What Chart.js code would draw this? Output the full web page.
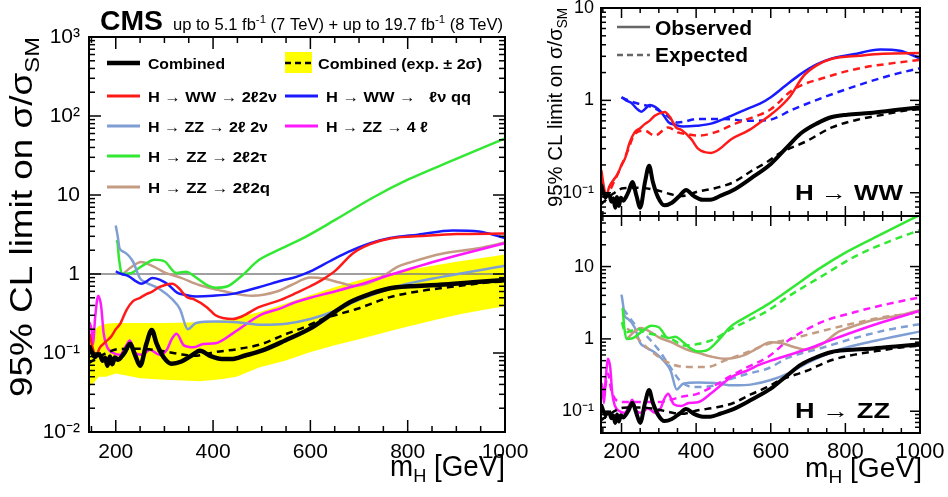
<!DOCTYPE html>
<html>
<head>
<meta charset="utf-8">
<title>CMS high-mass Higgs limits</title>
<script src="https://cdn.jsdelivr.net/npm/chart.js@4.4.1/dist/chart.umd.min.js"></script>
<style>
  html, body { margin: 0; padding: 0; background: #fff; }
  body { position: relative; width: 948px; height: 497px; overflow: hidden; }
  canvas { position: absolute; }
</style>
</head>
<body>
<canvas id="main" width="540" height="497" style="left:0;top:0"></canvas>
<canvas id="ww" width="408" height="226" style="left:540px;top:0"></canvas>
<canvas id="zz" width="408" height="291" style="left:540px;top:206px"></canvas>
<script>
// tick labels
const xTicks = [200, 400, 600, 800, 1000]
const yTicksMain = [0.01, 0.1, 1, 10, 100, 1000]
const yTicksSide = [0.1, 1, 10]

// combined (observed / expected / 2 sigma band)
const massComb = [145,150,157,163,168,173,178,183,188,193,198,205,212,219,229,240,250,263,274,284,298,315,335,356,373,394,418,438,466,500,548,600,640,681,723,764,805,866,934,1000]
const limitComb = [0.124,0.105,0.089,0.095,0.093,0.08,0.087,0.069,0.09,0.072,0.088,0.082,0.09,0.103,0.131,0.093,0.069,0.131,0.196,0.131,0.089,0.073,0.078,0.093,0.107,0.092,0.084,0.084,0.093,0.107,0.144,0.205,0.3,0.44,0.56,0.66,0.70,0.73,0.785,0.84]
const massCombExp = [145,160,178,205,250,300,330,360,405,450,500,548,590,626,695,764,832,901,969,1000]
const limitCombExp = [0.075,0.085,0.098,0.112,0.113,0.105,0.097,0.092,0.103,0.112,0.13,0.172,0.215,0.27,0.36,0.51,0.616,0.70,0.785,0.80]
const bandMass = [145,155,165,180,200,222,250,300,373,420,448,496,548,599,650,702,764,805,860,907,960,1000]
const bandLow = [0.037,0.042,0.05,0.05,0.055,0.052,0.048,0.046,0.044,0.047,0.05,0.066,0.08,0.102,0.125,0.15,0.19,0.22,0.265,0.31,0.355,0.39]
const bandHigh = [0.15,0.19,0.22,0.235,0.24,0.24,0.24,0.24,0.245,0.26,0.28,0.33,0.42,0.54,0.68,0.84,1.02,1.14,1.3,1.45,1.62,1.77]

// H -> WW -> 2l2nu
const wwLepMass = [146,152,159,167,180,190,200,209,222,235,250,262,275,289,300,316,330,346,360,387,405,423,440,459,494,539,571,600,625,652,687,723,764,839,901,1000]
const wwLepObs = [0.175,0.12,0.091,0.116,0.14,0.16,0.2,0.233,0.35,0.45,0.5,0.553,0.6,0.68,0.72,0.75,0.66,0.51,0.48,0.38,0.3,0.275,0.27,0.29,0.38,0.47,0.575,0.7,0.85,1.11,1.82,2.39,2.82,3.05,3.2,3.25]
const wwLepExpMass = [150,165,182,200,217,235,262,289,325,351,378,405,450,512,571,600,660,750,839,928,1000]
const wwLepExp = [0.09,0.1,0.137,0.198,0.287,0.43,0.47,0.415,0.51,0.45,0.43,0.415,0.45,0.575,0.7,0.8,1.31,1.79,2.23,2.53,2.74]

// H -> WW -> lnu qq
const wwQqMass = [200,212,226,240,253,265,275,290,307,326,343,365,400,440,494,540,571,600,640,678,723,764,821,893,946,1000]
const wwQqObs = [1.08,1.0,0.94,0.82,0.755,0.82,0.89,0.85,0.74,0.58,0.545,0.52,0.53,0.56,0.68,0.82,0.92,1.08,1.45,1.9,2.45,2.85,3.15,3.55,3.45,2.85]
const wwQqExpMass = [200,226,253,280,316,351,405,475,539,592,660,750,839,928,1000]
const wwQqExp = [1.08,0.97,0.905,0.85,0.71,0.575,0.63,0.63,0.60,0.61,0.80,1.11,1.48,1.90,2.23]

// H -> ZZ -> 2l2tau
const zzTauMass = [200,203,207,213,230,253,280,300,325,345,360,385,405,430,459,494,539,592,650,729,799,890,1000]
const zzTauObs = [2.6,2.55,1.5,1.0,1.02,1.25,1.52,1.45,1.03,1.07,0.95,0.74,0.67,0.7,0.95,1.5,2.08,3.0,4.8,9.3,15.5,27,52]
const zzTauExpMass = [201,210,244,270,300,333,369,405,450,494,539,592,647,736,826,915,1000]
const zzTauExp = [1.7,1.23,1.37,1.2,1.12,1.0,0.81,0.85,1.0,1.37,1.78,2.45,3.86,7.3,13.8,22,32]

// H -> ZZ -> 4l
const zz4lMass = [146,150,153,158,164,170,175,182,195,209,220,229,240,255,270,290,305,315,325,340,360,380,405,442,496,540,565,600,640,700,770,840,907,1000]
const zz4lObs = [0.245,0.2,0.13,0.3,0.53,0.39,0.18,0.12,0.1,0.095,0.12,0.144,0.1,0.095,0.11,0.095,0.11,0.15,0.175,0.125,0.118,0.13,0.133,0.18,0.3,0.37,0.43,0.5,0.58,0.73,1.0,1.35,1.75,2.45]
const zz4lExpMass = [146,155,164,172,182,200,250,300,360,405,450,494,539,592,647,736,826,915,1000]
const zz4lExp = [0.15,0.2,0.33,0.2,0.15,0.134,0.134,0.134,0.158,0.175,0.228,0.31,0.41,0.56,0.95,1.7,2.35,3.05,3.75]

// H -> ZZ -> 2l2q
const zzQMass = [215,230,252,277,300,333,373,410,440,480,531,560,600,630,660,692,736,781,805,870,942,1000]
const zzQObs = [1.0,1.2,1.42,1.25,1.05,0.9,0.72,0.63,0.57,0.53,0.6,0.72,0.9,0.87,0.78,0.71,0.84,1.25,1.4,1.8,2.1,2.5]
const zzQExpMass = [215,230,253,289,333,378,432,476,539,592,647,736,826,915,1000]
const zzQExp = [1.4,1.2,0.9,0.62,0.45,0.41,0.41,0.5,0.66,0.85,0.98,1.28,1.66,2.05,2.3]

// H -> ZZ -> 2l2nu
const zzNuMass = [200,204,208,217,235,250,262,289,316,332,348,365,405,450,500,550,600,650,700,780,870,1000]
const zzNuObs = [4.1,3.0,2.1,1.9,1.45,0.88,0.78,0.65,0.48,0.36,0.2,0.24,0.25,0.245,0.228,0.235,0.27,0.34,0.47,0.7,0.92,1.27]
const zzNuExpMass = [205,235,262,300,333,360,396,450,494,539,592,647,736,826,915,1000]
const zzNuExp = [2.6,1.6,1.17,0.7,0.39,0.254,0.216,0.227,0.28,0.33,0.39,0.55,0.75,1.03,1.34,1.6]

const RED = '#ff1a1a', BLUE = '#1a1aff', LBLUE = '#7f9ed4', GREEN = '#33e833'
const MAGENTA = '#ff19ff', TAN = '#c49c84', YELLOW = '#ffff00'
const FONT = '"Liberation Sans", Arial, Helvetica, sans-serif'

Chart.defaults.font.family = FONT
Chart.defaults.color = '#000'

const pts = (xs, ys) => xs.map((x, i) => ({ x: x, y: ys[i] }))

const line = (xs, ys, color, width, dash, order) => ({
  data: pts(xs, ys),
  borderColor: color,
  borderWidth: width,
  borderDash: dash || [],
  pointRadius: 0,
  fill: false,
  cubicInterpolationMode: 'monotone',
  order: order
})

const DASH = [7, 5]
const supLabel = { '-2': '10\u207B\u00B2', '-1': '10\u207B\u00B9', '0': '1', '1': '10', '2': '10\u00B2', '3': '10\u00B3' }

// text with sub/superscripts, stretched to a given width
function rich(ctx, parts, x, y, width, align) {
  const f = p => (p.b ? 'bold ' : '') + p.s + 'px ' + FONT
  let w = 0
  parts.forEach(p => { ctx.font = f(p); p.w = ctx.measureText(p.t).width; w += p.w })
  const k = width ? width / w : 1
  const start = align === 'right' ? x - w * k : align === 'center' ? x - w * k / 2 : x
  ctx.save()
  ctx.translate(start, y)
  ctx.scale(k, 1)
  ctx.fillStyle = '#000'
  ctx.textAlign = 'left'
  ctx.textBaseline = 'alphabetic'
  let cx = 0
  parts.forEach(p => { ctx.font = f(p); ctx.fillText(p.t, cx, p.dy || 0); cx += p.w })
  ctx.restore()
}

function seg(ctx, x1, y1, x2, y2) {
  ctx.beginPath(); ctx.moveTo(x1, y1); ctx.lineTo(x2, y2); ctx.stroke()
}

// ROOT style frame with inward ticks
function framePlugin(maj, min) {
  return {
    id: 'frame',
    afterDatasetsDraw(chart) {
      const { ctx, chartArea: a, scales: { x, y } } = chart
      ctx.save()
      ctx.strokeStyle = '#000'
      ctx.lineWidth = 1.5
      for (let v = Math.ceil(x.min / 50) * 50; v <= x.max; v += 50) {
        const px = x.getPixelForValue(v)
        const L = v % 200 === 0 ? maj : min
        seg(ctx, px, a.bottom, px, a.bottom - L)
        seg(ctx, px, a.top, px, a.top + L)
      }
      const e0 = Math.floor(Math.log10(y.min)), e1 = Math.ceil(Math.log10(y.max))
      for (let e = e0; e <= e1; e++) {
        for (let k = 1; k < 10; k++) {
          const v = k * Math.pow(10, e)
          if (v < y.min * 0.999 || v > y.max * 1.001) continue
          const py = y.getPixelForValue(v)
          const L = k === 1 ? maj : min
          seg(ctx, a.left, py, a.left + L, py)
          seg(ctx, a.right, py, a.right - L, py)
        }
      }
      ctx.lineWidth = 2
      ctx.strokeRect(a.left, a.top, a.right - a.left, a.bottom - a.top)
      ctx.restore()
    }
  }
}

function panel(id, o) {
  return new Chart(document.getElementById(id), {
    type: 'line',
    data: { datasets: o.datasets },
    options: {
      responsive: false,
      animation: false,
      devicePixelRatio: 1,
      layout: { padding: o.pad },
      plugins: { legend: { display: false }, tooltip: { enabled: false } },
      scales: {
        x: {
          type: 'linear', min: 145, max: 1000,
          grid: { display: false, drawTicks: false },
          border: { display: false },
          ticks: {
            display: o.xLabels, font: { size: o.xFont }, padding: o.xPad, maxRotation: 0, autoSkip: false, color: '#000',
            callback: v => String(v)
          },
          afterBuildTicks: s => { s.ticks = xTicks.map(v => ({ value: v })) },
          afterFit: s => { s.height = o.xH; s.paddingLeft = 0; s.paddingRight = 0 }
        },
        y: {
          type: 'logarithmic', min: o.yMin, max: o.yMax,
          grid: { display: false, drawTicks: false },
          border: { display: false },
          ticks: {
            font: { size: o.yFont }, padding: o.yPad, autoSkip: false, color: '#000',
            callback: v => supLabel[String(Math.round(Math.log10(v)))]
          },
          afterBuildTicks: s => { s.ticks = o.yTicks.map(v => ({ value: v })) },
          afterFit: s => { s.width = o.yW; s.paddingTop = 0; s.paddingBottom = 0 }
        }
      }
    },
    plugins: [framePlugin(o.maj, o.min), o.extra]
  })
}

// ---------------- main panel ----------------
const bandLowSet = { data: pts(bandMass, bandLow), borderWidth: 0, pointRadius: 0, fill: false, order: 10 }
const bandHighSet = { data: pts(bandMass, bandHigh), borderWidth: 0, pointRadius: 0, fill: '-1', backgroundColor: YELLOW, order: 9 }
const mainSets = [
  line(massComb, limitComb, '#000', 4.5, null, 1),
  line(massCombExp, limitCombExp, '#000', 2.5, DASH, 2),
  line(wwLepMass, wwLepObs, RED, 2.5, null, 3),
  line(wwQqMass, wwQqObs, BLUE, 2.5, null, 3),
  line(zzNuMass, zzNuObs, LBLUE, 2.5, null, 4),
  line(zz4lMass, zz4lObs, MAGENTA, 2.5, null, 4),
  line(zzTauMass, zzTauObs, GREEN, 2.5, null, 4),
  line(zzQMass, zzQObs, TAN, 2.5, null, 4),
  bandLowSet,
  bandHighSet
]

const legendMain = [
  { x: 107, y: 63, c: '#000', w: 4.5, t: 'Combined', tw: 77 },
  { x: 107, y: 96, c: RED, w: 3, t: 'H \u2192 WW \u2192 2\u21132\u03BD', tw: 129 },
  { x: 107, y: 126, c: LBLUE, w: 3, t: 'H \u2192 ZZ \u2192 2\u2113 2\u03BD', tw: 120 },
  { x: 107, y: 156, c: GREEN, w: 3, t: 'H \u2192 ZZ \u2192 2\u21132\u03C4', tw: 119 },
  { x: 107, y: 187, c: TAN, w: 3, t: 'H \u2192 ZZ \u2192 2\u21132q', tw: 122 },
  { x: 285, y: 96, c: BLUE, w: 3, t: 'H \u2192 WW \u2192   \u2113\u03BD qq', tw: 145 },
  { x: 285, y: 126, c: MAGENTA, w: 3, t: 'H \u2192 ZZ \u2192 4 \u2113', tw: 102 }
]

panel('main', {
  datasets: mainSets,
  pad: { left: 0, top: 37, right: 35, bottom: 0 },
  yW: 89, xH: 65, yMin: 0.01, yMax: 1000, yTicks: yTicksMain,
  xLabels: true, xFont: 21, xPad: 8, yFont: 21, yPad: 9, maj: 12, min: 6,
  extra: {
    id: 'mainDecor',
    afterDatasetDraw(chart, args) {
      if (args.index !== mainSets.indexOf(bandHighSet)) return
      const { ctx, chartArea: a, scales: { y } } = chart
      const py = y.getPixelForValue(1)
      ctx.save()
      ctx.strokeStyle = '#808080'
      ctx.lineWidth = 1.5
      seg(ctx, a.left, py, a.right, py)
      ctx.restore()
    },
    afterDraw(chart) {
      const ctx = chart.ctx
      rich(ctx, [{ t: 'CMS', s: 27, b: true }], 100, 30, 63)
      rich(ctx, [
        { t: 'up to 5.1 fb', s: 16 }, { t: '-1', s: 11, dy: -7 },
        { t: ' (7 TeV) + up to 19.7 fb', s: 16 }, { t: '-1', s: 11, dy: -7 },
        { t: ' (8 TeV)', s: 16 }
      ], 173, 30, 330)
      ctx.save()
      ctx.translate(32, 397)
      ctx.rotate(-Math.PI / 2)
      rich(ctx, [{ t: '95% CL limit on \u03C3/\u03C3', s: 31 }, { t: 'SM', s: 20, dy: 7 }], 0, 0, 360)
      ctx.restore()
      rich(ctx, [{ t: 'm', s: 29 }, { t: 'H', s: 19, dy: 6 }, { t: ' [GeV]', s: 29 }], 505, 476, 115, 'right')

      // legend
      ctx.save()
      ctx.fillStyle = YELLOW
      ctx.fillRect(285, 52, 27, 21)
      ctx.strokeStyle = '#000'
      ctx.lineWidth = 2.5
      ctx.setLineDash([6, 4])
      seg(ctx, 285, 63, 312, 63)
      ctx.setLineDash([])
      legendMain.forEach(e => {
        ctx.strokeStyle = e.c
        ctx.lineWidth = e.w
        seg(ctx, e.x, e.y, e.x + 33, e.y)
      })
      ctx.restore()
      legendMain.forEach(e => rich(ctx, [{ t: e.t, s: 15, b: true }], e.x + 41, e.y + 6, e.tw))
      rich(ctx, [{ t: 'Combined (exp. \u00B1 2\u03C3)', s: 15, b: true }], 318, 69, 164)
    }
  }
})

// ---------------- H -> WW panel ----------------
panel('ww', {
  datasets: [
    line(massComb, limitComb, '#000', 4, null, 1),
    line(massCombExp, limitCombExp, '#000', 2.5, DASH, 2),
    line(wwLepMass, wwLepObs, RED, 2.5, null, 3),
    line(wwLepExpMass, wwLepExp, RED, 2.5, DASH, 3),
    line(wwQqMass, wwQqObs, BLUE, 2.5, null, 3),
    line(wwQqExpMass, wwQqExp, BLUE, 2.5, DASH, 3)
  ],
  pad: { left: 0, top: 8, right: 28, bottom: 0 },
  yW: 61, xH: 10, yMin: 0.056, yMax: 10, yTicks: yTicksSide,
  xLabels: false, xFont: 22, xPad: 6, yFont: 18, yPad: 7, maj: 10, min: 5,
  extra: {
    id: 'wwDecor',
    afterDraw(chart) {
      const ctx = chart.ctx
      ctx.save()
      ctx.translate(22, 207)
      ctx.rotate(-Math.PI / 2)
      rich(ctx, [{ t: '95% CL limit on \u03C3/\u03C3', s: 21 }, { t: 'SM', s: 14, dy: 5 }], 0, 0, 199)
      ctx.restore()
      ctx.save()
      ctx.strokeStyle = '#666'
      ctx.lineWidth = 2.5
      seg(ctx, 77, 27, 110, 27)
      ctx.setLineDash([6, 4])
      seg(ctx, 77, 55, 110, 55)
      ctx.restore()
      rich(ctx, [{ t: 'Observed', s: 21, b: true }], 115, 35, 97)
      rich(ctx, [{ t: 'Expected', s: 21, b: true }], 115, 62, 93)
      rich(ctx, [{ t: 'H \u2192 WW', s: 22, b: true }], 255, 200, 108)
    }
  }
})

// ---------------- H -> ZZ panel ----------------
panel('zz', {
  datasets: [
    line(massComb, limitComb, '#000', 4, null, 1),
    line(massCombExp, limitCombExp, '#000', 2.5, DASH, 2),
    line(zzTauMass, zzTauObs, GREEN, 2.5, null, 3),
    line(zzTauExpMass, zzTauExp, GREEN, 2.5, DASH, 3),
    line(zz4lMass, zz4lObs, MAGENTA, 2.5, null, 3),
    line(zz4lExpMass, zz4lExp, MAGENTA, 2.5, DASH, 3),
    line(zzQMass, zzQObs, TAN, 2.5, null, 3),
    line(zzQExpMass, zzQExp, TAN, 2.5, DASH, 3),
    line(zzNuMass, zzNuObs, LBLUE, 2.5, null, 3),
    line(zzNuExpMass, zzNuExp, LBLUE, 2.5, DASH, 3)
  ],
  pad: { left: 0, top: 10, right: 28, bottom: 0 },
  yW: 61, xH: 64, yMin: 0.05, yMax: 50, yTicks: yTicksSide,
  xLabels: true, xFont: 22, xPad: 6, yFont: 18, yPad: 7, maj: 10, min: 5,
  extra: {
    id: 'zzDecor',
    afterDraw(chart) {
      const ctx = chart.ctx
      rich(ctx, [{ t: 'H \u2192 ZZ', s: 22, b: true }], 255, 212, 95)
      rich(ctx, [{ t: 'm', s: 28 }, { t: 'H', s: 19, dy: 6 }, { t: ' [GeV]', s: 28 }], 382, 271, 117, 'right')
    }
  }
})
</script>
</body>
</html>
